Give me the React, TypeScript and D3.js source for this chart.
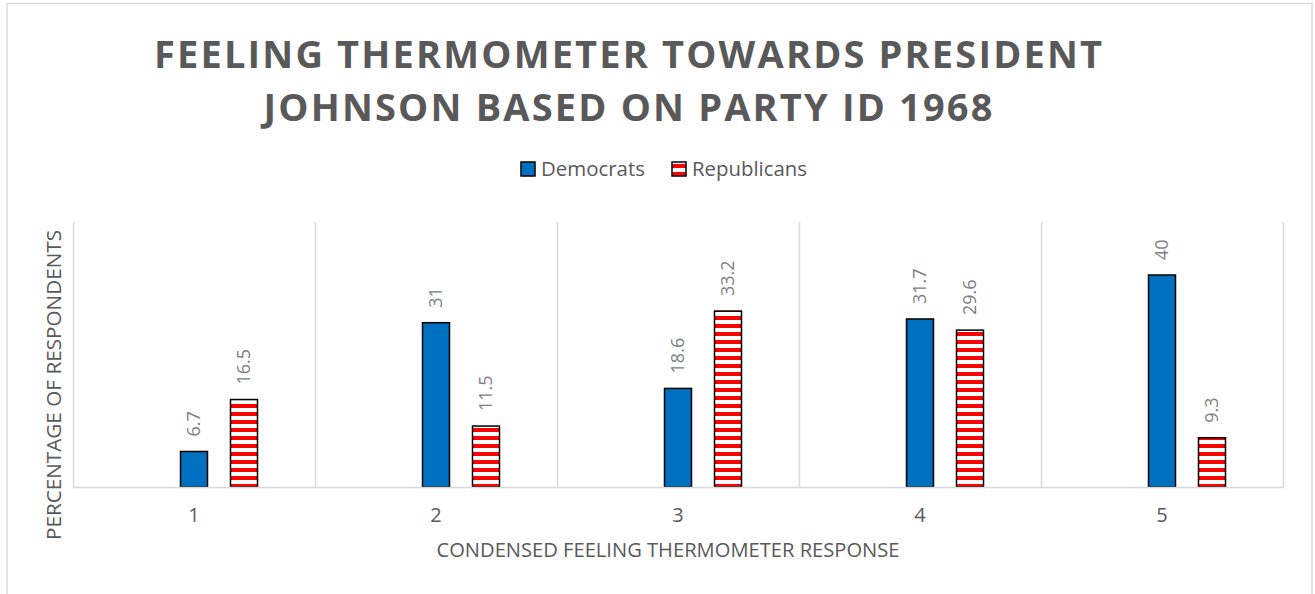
import { useEffect, useRef } from 'react';
import * as d3 from 'd3';

const CATEGORIES = ['1', '2', '3', '4', '5'];
const DEMOCRATS = [6.7, 31, 18.6, 31.7, 40];
const REPUBLICANS = [16.5, 11.5, 33.2, 29.6, 9.3];
// the source workbook keeps an empty first series, so each cluster has three slots
const SLOTS = ['empty', 'Democrats', 'Republicans'];
const LEGEND = ['Democrats', 'Republicans'];
const TITLE_LINES = ['FEELING THERMOMETER TOWARDS PRESIDENT', 'JOHNSON BASED ON PARTY ID 1968'];
const X_TITLE = 'CONDENSED FEELING THERMOMETER RESPONSE';
const Y_TITLE = 'PERCENTAGE OF RESPONDENTS';
const Y_MAX = 50;

const W = 1315;
const H = 594;
const FONT = '"Open Sans", "DejaVu Sans", sans-serif';
const TEXT = '#595959';
const GRID = '#d9d9d9';
const BLUE = '#0070c0';
const RED = '#ff0000';

const margin = { left: 73, right: 32, top: 222, bottom: 107 };

export default function App() {
  const svgRef = useRef<SVGSVGElement | null>(null);

  useEffect(() => {
    const svg = d3.select(svgRef.current);
    svg.selectAll('*').remove();

    const defs = svg.append('defs');
    const pat = defs
      .append('pattern')
      .attr('id', 'stripes')
      .attr('patternUnits', 'userSpaceOnUse')
      .attr('width', 8)
      .attr('height', 8);
    pat.append('rect').attr('width', 8).attr('height', 8).attr('fill', '#fff');
    pat.append('rect').attr('y', 4).attr('width', 8).attr('height', 4).attr('fill', RED);

    // chart frame
    svg
      .append('rect')
      .attr('x', 7)
      .attr('y', 3.5)
      .attr('width', 1305)
      .attr('height', H + 10)
      .attr('fill', '#fff')
      .attr('stroke', GRID)
      .attr('stroke-width', 1.5);

    const x0 = d3
      .scaleBand<string>()
      .domain(CATEGORIES)
      .range([margin.left, W - margin.right]);
    const x1 = d3
      .scaleBand<string>()
      .domain(SLOTS)
      .range([0, x0.bandwidth()])
      .paddingInner(0.46)
      .paddingOuter(1.15);
    const y = d3
      .scaleLinear()
      .domain([0, Y_MAX])
      .range([H - margin.bottom, margin.top]);

    // title
    const title = svg
      .append('g')
      .attr('font-family', FONT)
      .attr('font-weight', 700)
      .attr('font-size', 38)
      .attr('fill', TEXT)
      .attr('text-anchor', 'middle');
    const titleW = [948, 729];
    TITLE_LINES.forEach((t, i) => {
      title
        .append('text')
        .attr('x', 628)
        .attr('y', 68 + i * 53)
        .attr('textLength', titleW[i])
        .attr('lengthAdjust', 'spacing')
        .text(t);
    });

    // legend
    const legend = svg.append('g').attr('font-family', FONT).attr('font-size', 20).attr('fill', TEXT);
    const legendX = [521, 672];
    const legendW = [104, 115];
    LEGEND.forEach((name, i) => {
      legend
        .append('rect')
        .attr('x', legendX[i])
        .attr('y', 162)
        .attr('width', 14)
        .attr('height', 14)
        .attr('fill', i === 0 ? BLUE : 'url(#stripes)')
        .attr('stroke', '#000')
        .attr('stroke-width', 1.5);
      legend
        .append('text')
        .attr('x', legendX[i] + 20)
        .attr('y', 176)
        .attr('textLength', legendW[i])
        .attr('lengthAdjust', 'spacingAndGlyphs')
        .text(name);
    });

    // vertical gridlines between categories
    const gridXs = [...CATEGORIES.map((c) => x0(c)!), x0.range()[1]];
    svg
      .append('g')
      .selectAll('line')
      .data(gridXs)
      .enter()
      .append('line')
      .attr('x1', (d) => d + 0.5)
      .attr('x2', (d) => d + 0.5)
      .attr('y1', y(Y_MAX))
      .attr('y2', y(0))
      .attr('stroke', GRID)
      .attr('stroke-width', 1.5);

    // bars
    const rows = CATEGORIES.map((c, i) => ({ c, dem: DEMOCRATS[i], rep: REPUBLICANS[i] }));
    const bars = svg.append('g');
    rows.forEach((r) => {
      const vals: [string, number, string][] = [
        ['Democrats', r.dem, BLUE],
        ['Republicans', r.rep, 'url(#stripes)'],
      ];
      vals.forEach(([s, v, fill]) => {
        const bx = x0(r.c)! + x1(s)!;
        bars
          .append('rect')
          .attr('x', bx)
          .attr('y', y(v))
          .attr('width', x1.bandwidth())
          .attr('height', y(0) - y(v))
          .attr('fill', fill)
          .attr('stroke', '#000')
          .attr('stroke-width', 1.5);
        const cx = bx + x1.bandwidth() / 2;
        bars
          .append('text')
          .attr('transform', `translate(${cx},${y(v) - 15}) rotate(-90)`)
          .attr('dy', '0.35em')
          .attr('font-family', FONT)
          .attr('font-size', 18)
          .attr('fill', '#808080')
          .text(String(v));
      });
    });

    // x axis line
    svg
      .append('line')
      .attr('x1', x0.range()[0])
      .attr('x2', x0.range()[1] + 1)
      .attr('y1', y(0) + 0.5)
      .attr('y2', y(0) + 0.5)
      .attr('stroke', GRID)
      .attr('stroke-width', 1.5);

    // tick labels
    svg
      .append('g')
      .attr('font-family', FONT)
      .attr('font-size', 20)
      .attr('fill', TEXT)
      .attr('text-anchor', 'middle')
      .selectAll('text')
      .data(CATEGORIES)
      .enter()
      .append('text')
      .attr('x', (d) => x0(d)! + x0.bandwidth() / 2)
      .attr('y', 522)
      .text((d) => d);

    // axis titles
    svg
      .append('text')
      .attr('x', 668)
      .attr('y', 557)
      .attr('text-anchor', 'middle')
      .attr('font-family', FONT)
      .attr('font-size', 20)
      .attr('fill', TEXT)
      .attr('textLength', 463)
      .attr('lengthAdjust', 'spacingAndGlyphs')
      .text(X_TITLE);
    svg
      .append('text')
      .attr('transform', `translate(61,385) rotate(-90)`)
      .attr('text-anchor', 'middle')
      .attr('font-family', FONT)
      .attr('font-size', 20)
      .attr('fill', TEXT)
      .attr('textLength', 310)
      .attr('lengthAdjust', 'spacingAndGlyphs')
      .text(Y_TITLE);
  }, []);

  return (
    <svg
      ref={svgRef}
      width={W}
      height={H}
      style={{ position: 'absolute', left: 0, top: 0, background: '#fff' }}
    />
  );
}
